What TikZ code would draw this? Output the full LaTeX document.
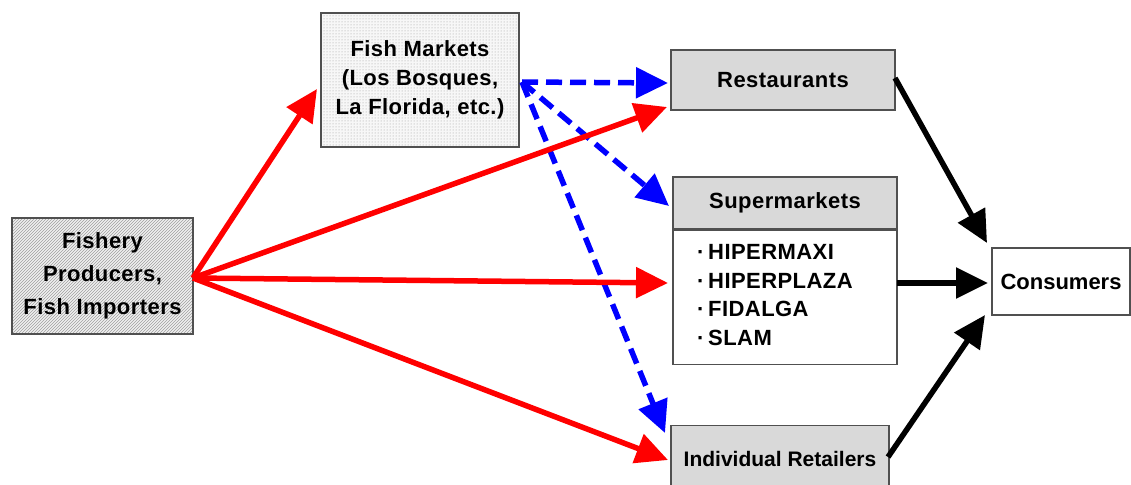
\documentclass[tikz,border=0pt]{standalone}
\usepackage{fontspec}
\setmainfont[LetterSpace=2]{Liberation Sans}
\newfontfamily\plainsans{Liberation Sans}
\usetikzlibrary{arrows.meta,patterns}
\definecolor{boxgray}{HTML}{D9D9D9}
\definecolor{edgegray}{HTML}{505050}
\tikzset{
  box/.style={draw=edgegray, line width=1.4pt, inner sep=0pt, align=center,
    font=\bfseries\fontsize{22}{29}\selectfont},
  hatchbox/.style={box, preaction={fill=gray!12}, pattern=north east lines, pattern color=gray!75},
  dotbox/.style={box, preaction={fill=gray!6}, pattern=dots, pattern color=gray!80},
  graybox/.style={box, fill=boxgray},
  whitebox/.style={box, fill=white},
  tip/.style={-{Triangle[length=32pt,width=30pt]}},
  redarrow/.style={tip, draw=red, line width=5.5pt},
  bluearrow/.style={tip, draw=blue, line width=5.5pt, dash pattern=on 16pt off 8pt},
  blackarrow/.style={tip, draw=black, line width=5.5pt},
}
\begin{document}
\begin{tikzpicture}[x=1pt,y=-1pt]
\useasboundingbox (0,0) rectangle (1131,484);
% boxes
\node[hatchbox, minimum width=181, minimum height=116, font=\bfseries\fontsize{22}{33}\selectfont] (fp) at (102.5,276) {Fishery\\Producers,\\Fish Importers};
\node[dotbox, minimum width=198, minimum height=134] (fm) at (420,80) {Fish Markets\\(Los Bosques,\\La Florida, etc.)};
\node[graybox, minimum width=224, minimum height=60] (rest) at (783,80) {Restaurants};
\node[graybox, minimum width=224, minimum height=52] (smh) at (785,203) {Supermarkets};
\node[whitebox, minimum width=224, minimum height=134, anchor=north] (smb) at (smh.south) {};
\node[anchor=west, inner sep=0pt, align=left, font=\bfseries\fontsize{22}{28.6}\selectfont] (list) at (697,295)
  {\textperiodcentered\,HIPERMAXI\\\textperiodcentered\,HIPERPLAZA\\\textperiodcentered\,FIDALGA\\\textperiodcentered\,SLAM};
\node[graybox, minimum width=218, minimum height=72, anchor=north] (ret) at (780,425) {};
\node[font=\plainsans\bfseries\fontsize{21}{29}\selectfont] (rettext) at (780,459) {Individual Retailers};
\node[whitebox, minimum width=138, minimum height=67, font=\plainsans\bfseries\fontsize{22}{29}\selectfont] (cons) at (1061,281.5) {Consumers};
% connector endpoints
\coordinate (src) at (193,278);
\coordinate (bsrc) at (522,82);
\coordinate (tFM) at (317,89);
\coordinate (tR1) at (667,107);
\coordinate (tS1) at (668,283);
\coordinate (tI1) at (668,460);
\coordinate (bR) at (668,83);
\coordinate (bS) at (669,206);
\coordinate (bI) at (665,433);
\coordinate (kR) at (895,78);
\coordinate (kS) at (897,283);
\coordinate (kI) at (888,457);
\coordinate (cR) at (987,243);
\coordinate (cS) at (988,283);
\coordinate (cI) at (985,315);
% blue dashed
\draw[bluearrow] (bsrc) -- (bR);
\draw[bluearrow] (bsrc) -- (bS);
\draw[bluearrow] (bsrc) -- (bI);
% red
\draw[redarrow] (src) -- (tFM);
\draw[redarrow] (src) -- (tR1);
\draw[redarrow] (src) -- (tS1);
\draw[redarrow] (src) -- (tI1);
% black
\draw[blackarrow] (kR) -- (cR);
\draw[blackarrow] (kS) -- (cS);
\draw[blackarrow] (kI) -- (cI);
\end{tikzpicture}
\end{document}
